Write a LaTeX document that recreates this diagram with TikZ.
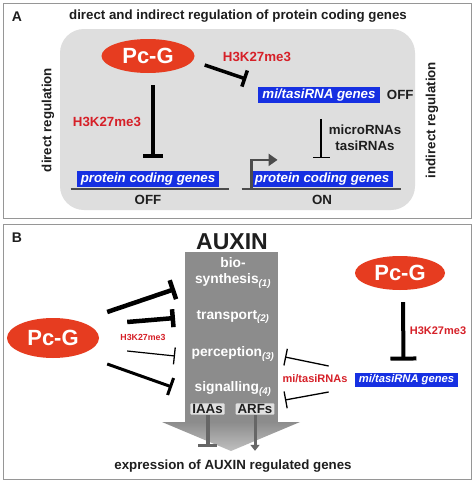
\documentclass[tikz,border=0pt]{standalone}
\usepackage{fontspec}
\setmainfont{Liberation Sans}
\usepackage{xcolor}
\usepackage{tikz}
\usetikzlibrary{arrows.meta,positioning,calc,shapes.geometric}
\definecolor{pcred}{RGB}{230,60,32}
\definecolor{geneblue}{RGB}{22,48,226}
\definecolor{labred}{RGB}{214,32,40}
\definecolor{Frame}{RGB}{150,150,150}
\definecolor{Panel}{RGB}{222,222,222}
\definecolor{Auxin}{RGB}{140,140,140}
\definecolor{Ink}{RGB}{30,30,30}
\colorlet{Wire}{black!70}

\begin{document}
\begin{tikzpicture}[x=1pt,y=-1pt,
  txt/.style={font=\bfseries\fontsize{13.3}{16}\selectfont,text=Ink,inner sep=0pt},
  pcg/.style={ellipse,fill=pcred,text=white,font=\bfseries\fontsize{22}{24}\selectfont,inner sep=0pt},
  gene/.style={fill=geneblue,text=white,font=\bfseries\itshape\fontsize{13.3}{15}\selectfont,inner xsep=4pt,inner ysep=1.5pt},
  h3/.style={txt,text=labred},
  stage/.style={font=\bfseries\fontsize{13.8}{16}\selectfont,text=white,inner sep=0pt,align=center},
  tag/.style={txt,fill=black!12,inner xsep=2pt,inner ysep=1pt,rounded corners=1pt},
  inhthick/.style={line width=4pt,-{Bar[width=20pt,line width=4pt]}},
  inhmid/.style={line width=3pt,-{Bar[width=18pt,line width=3pt]}},
  inhthin/.style={line width=1.3pt,-{Bar[width=17pt,line width=1.3pt]}}
]
\useasboundingbox (0,0) rectangle (474,482);
\fill[white] (0,0) rectangle (474,482);

\draw[Frame,line width=1pt] (3,3) rectangle (471,218);
\node[txt,font=\bfseries\fontsize{14}{16}\selectfont] (la) at (17,17) {A};
\node[txt] (ta) at (238,16) {direct and indirect regulation of protein coding genes};
\fill[Panel,rounded corners=24pt] (60,29) rectangle (415,210);
\node[pcg,minimum width=93pt,minimum height=34pt] (pa) at (148,56) {Pc-G};
\node[gene] (ma) at (319,95) {mi/tasiRNA genes};
\node[txt,right=7pt of ma] (offm) {OFF};
\node[gene] (ga) at (148,179) {protein coding genes};
\node[gene] (gb) at (322,179) {protein coding genes};
\node[txt] (offa) at (148,200) {OFF};
\node[txt] (onb) at (322,200) {ON};
\node[h3] (ha1) at (257,57) {H3K27me3};
\node[h3] (ha2) at (107,122) {H3K27me3};
\node[txt,align=center] (mir) at (365,138) {microRNAs\\tasiRNAs};
\node[txt,rotate=90] (dr) at (48,120) {direct regulation};
\node[txt,rotate=90] (ir) at (432,120) {indirect regulation};
\draw[Wire,line width=1.2pt] ([xshift=-6pt,yshift=-2pt]ga.south west) -- ([xshift=10pt,yshift=-2pt]ga.south east);
\draw[Wire,line width=1.2pt] ([xshift=-9pt,yshift=-2pt]gb.south west) -- ([xshift=8pt,yshift=-2pt]gb.south east);
\draw[inhthick] ([xshift=5pt,yshift=-12pt]pa.south) -- ([xshift=5pt,yshift=13pt]ga.north);
\draw[line width=3.5pt,-{Bar[width=17pt,line width=3.5pt]}] ([xshift=10pt,yshift=-9pt]pa.east) -- ([xshift=-12pt,yshift=8pt]ma.north west);
\draw[inhthin,line width=1.5pt] ([xshift=2pt,yshift=-16pt]ma.south) -- ([xshift=-1pt,yshift=13pt]gb.north);
\draw[Wire,line width=2.5pt,-{Triangle[length=9pt,width=12pt]}] ([xshift=1pt,yshift=-1pt]gb.south west) -- ++(0,-28) -- ++(26,0);

\draw[Frame,line width=1pt] (3,224) rectangle (471,479);
\node[txt,font=\bfseries\fontsize{14}{16}\selectfont] (lb) at (17,238) {B};
\fill[Auxin] (185,252) rectangle (278,422.5);
\shade[top color=Auxin,bottom color=Auxin!55] (162,422) -- (300,422) -- (231,451) -- cycle;
\node[txt,font=\bfseries\fontsize{23}{25}\selectfont] (aux) at (232,241.5) {AUXIN};
\node[stage] (s1) at (233,273) {bio-\\synthesis\textsubscript{\itshape(1)}};
\node[stage] (s2) at (233,317) {transport\textsubscript{\itshape(2)}};
\node[stage] (s3) at (233,354) {perception\textsubscript{\itshape(3)}};
\node[stage] (s4) at (233,389) {signalling\textsubscript{\itshape(4)}};
\node[tag] (ia) at (207.5,409) {IAAs};
\node[tag] (af) at (255,409) {ARFs};
\coordinate[below=32pt of ia.south] (ie);
\coordinate[below=36pt of af.south] (ae);
\draw[black!60,line width=4pt,-{Bar[width=19pt,line width=3pt]}] (ia.south) -- (ie);
\draw[black!60,line width=3pt,-{Triangle[length=6pt,width=9pt]}] (af.south) -- (ae);
\node[txt] (ex) at (233,466) {expression of AUXIN regulated genes};

\node[pcg,minimum width=92pt,minimum height=40pt] (pb) at (53,338) {Pc-G};
\node[h3,font=\bfseries\fontsize{8.8}{10}\selectfont] (hb1) at (143,337) {H3K27me3};
\coordinate (e1) at (175,289);
\coordinate (e2) at (175,318);
\coordinate (e3) at (175,356);
\coordinate (e4) at (172,387);
\draw[line width=4.5pt,-{Bar[width=20pt,line width=4.5pt]}] ([xshift=8pt,yshift=26pt]pb.east) -- (e1);
\draw[line width=4.5pt,-{Bar[width=18pt,line width=4.5pt]}] ([xshift=28pt,yshift=16pt]pb.east) -- (e2);
\draw[inhthin,line width=1.2pt] ([xshift=28pt,yshift=-13pt]pb.east) -- (e3);
\draw[inhmid] ([xshift=8pt,yshift=-26pt]pb.east) -- (e4);

\node[pcg,minimum width=90pt,minimum height=34pt] (pc) at (400,273) {Pc-G};
\node[gene,font=\bfseries\itshape\fontsize{11.2}{13}\selectfont,inner ysep=2pt] (mb) at (406.5,380) {mi/tasiRNA genes};
\node[h3,font=\bfseries\fontsize{11}{13}\selectfont] (hb2) at (438,331) {H3K27me3};
\node[h3,font=\bfseries\fontsize{11}{13}\selectfont] (mr) at (315,379) {mi/tasiRNAs};
\draw[inhthick,-{Bar[width=26pt,line width=4pt]}] ([xshift=3pt,yshift=-12pt]pc.south) -- ([xshift=-3pt,yshift=12pt]mb.north);
\coordinate (e5) at (285,357);
\coordinate (e6) at (285,400);
\draw[inhthin] ([xshift=-26pt,yshift=14pt]mb.west) -- (e5);
\draw[inhthin] ([xshift=-26pt,yshift=-12pt]mb.west) -- (e6);
\end{tikzpicture}
\end{document}
